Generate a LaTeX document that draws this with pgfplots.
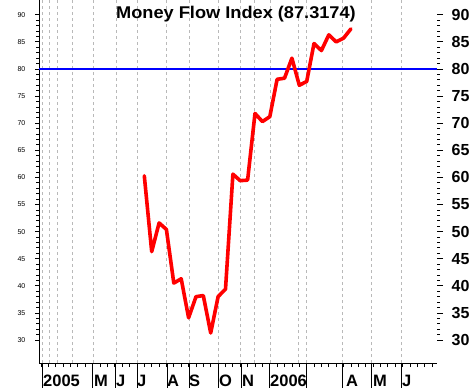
\documentclass[border=0pt]{standalone}
\usepackage{pgfplots}
\pgfplotsset{compat=1.18}
\usepackage{fontspec}
\setmainfont{Liberation Sans}
\begin{document}
\begin{tikzpicture}[x=1pt,y=1pt]
\useasboundingbox (0,0) rectangle (473,388);
% right axis (ticks and bold labels only)
\begin{axis}[
  at={(39pt,25pt)}, anchor=south west, scale only axis,
  width=398pt, height=363pt,
  xmin=39, xmax=437, ymin=25.76, ymax=92.73,
  axis x line=none, axis y line*=right,
  y axis line style={draw=none},
  tick align=outside,
  xtick=\empty,
  ytick={30,35,...,90}, minor y tick num=4,
  major tick length=6pt, minor tick length=3pt,
  tick style={black, line width=0.8pt},
  /pgf/number format/assume math mode=true,
  yticklabel style={font=\bfseries\fontsize{16}{16}\selectfont, anchor=west, inner sep=0pt, xshift=8.5pt},
]
\end{axis}
% main axis
\begin{axis}[
  at={(39pt,25pt)}, anchor=south west, scale only axis,
  width=398pt, height=363pt,
  xmin=39, xmax=437, ymin=25.76, ymax=92.73,
  clip=false,
  axis x line*=bottom, axis y line*=left,
  axis line style={black, line width=1pt, -},
  tick align=outside,
  xtick={40.98,48.36,...,433}, xticklabels={},
  ytick={30,35,...,90}, minor y tick num=4,
  major tick length=4pt, minor tick length=3pt,
  tick style={black, line width=0.8pt},
  /pgf/number format/assume math mode=true,
  yticklabel style={font=\fontsize{7}{7}\selectfont, anchor=east, inner sep=0pt, xshift=-9.5pt},
]
\foreach \g in {42.3,49.3,57.3,72.7,93.3,116,137.3,166.7,189.3,218.3,240.7,254.3,270,298.7,306.3,342.7,371.7,401.3}{
  \edef\tmp{\noexpand\draw[gray!55, line width=0.7pt, dash pattern=on 3pt off 3pt] (axis cs:\g,25.76) -- (axis cs:\g,92.73);}\tmp
}
\foreach \g in {42.5,92,115.5,137.3,167.3,189.3,218.3,241,269.5,306,342.5,371.5,401}{
  \edef\tmp{\noexpand\draw[black, line width=0.8pt] (axis cs:\g,25.76) -- (axis cs:\g,21.15);}\tmp
}
\addplot[blue, line width=2pt, forget plot] coordinates {(39,80) (437,80)};
\addplot[red, line width=3.6pt, line join=round, line cap=round] coordinates {
(144.3,60.3) (151.7,46.3) (159.1,51.6) (166.4,50.4) (173.8,40.5) (181.2,41.3)
(188.6,34.1) (196.0,38.0) (203.3,38.2) (210.7,31.3) (218.1,38.0) (225.5,39.4)
(232.9,60.6) (240.2,59.4) (247.6,59.5) (255.0,71.8) (262.4,70.3) (269.8,71.2)
(277.1,78.1) (284.5,78.3) (291.9,82.0) (299.3,77.0) (306.7,77.7) (314.0,84.7)
(321.4,83.4) (328.8,86.3) (336.2,85.0) (343.6,85.7) (350.9,87.4)
};
\foreach \p/\t in {43/2005,94/M,116/J,137/J,167/A,189/S,219/O,242/N,270/2006,346/A,373/M,402/J}{
  \edef\tmp{\noexpand\node[anchor=base west, inner sep=0pt, font=\noexpand\bfseries\noexpand\fontsize{16.5}{16.5}\noexpand\selectfont] at (axis cs:\p,25.76) [yshift=-23pt] {\t};}\tmp
}
\end{axis}
\node[font=\bfseries\fontsize{17}{17}\selectfont, anchor=base, inner sep=0pt] at (236,369) {\scalebox{1.07}[1]{Money Flow Index (87.3174)}};
\end{tikzpicture}
\end{document}
